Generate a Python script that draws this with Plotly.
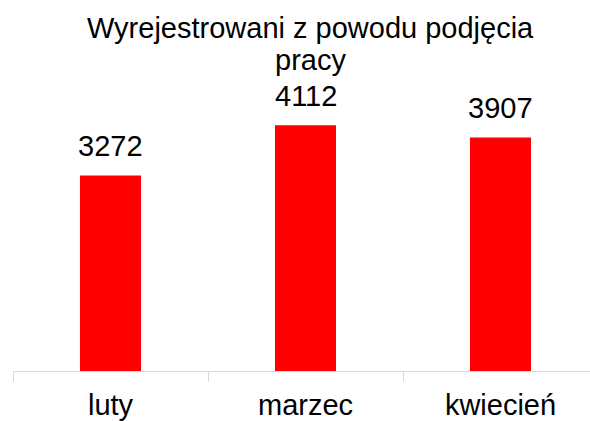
import plotly.graph_objects as go

categories = ["luty", "marzec", "kwiecień"]
values = [3272, 4112, 3907]
title_line1 = "Wyrejestrowani z powodu podjęcia"
title_line2 = "pracy"

FONT = "Liberation Sans, Arial"
title_x = (310 - 13) / 577

fig = go.Figure(go.Bar(
    x=categories, y=values, width=0.313,
    marker=dict(color="#ff0000", line=dict(width=0)),
))
annotations = [
    dict(text=title_line1, xref="paper", yref="paper", x=title_x, y=1,
         xanchor="center", yanchor="middle", yshift=102 - 28, showarrow=False,
         font=dict(size=29, color="#000000", family=FONT)),
    dict(text=title_line2, xref="paper", yref="paper", x=title_x, y=1,
         xanchor="center", yanchor="middle", yshift=102 - 60, showarrow=False,
         font=dict(size=29, color="#000000", family=FONT)),
]
for c, v in zip(categories, values):
    annotations.append(dict(text=str(v), x=c, y=v, xref="x", yref="y",
                            xanchor="center", yanchor="bottom", yshift=11,
                            showarrow=False,
                            font=dict(size=29, color="#000000", family=FONT)))
fig.update_layout(
    width=590, height=421,
    margin=dict(l=13, r=0, t=102, b=47),
    paper_bgcolor="white", plot_bgcolor="white",
    showlegend=False,
    font=dict(family=FONT, size=29, color="#000000"),
    xaxis=dict(range=[-0.5, 2.459], showline=True, linecolor="#d9d9d9", linewidth=1,
               ticks="outside", tickson="boundaries", ticklen=10, tickcolor="#d9d9d9",
               tickfont=dict(size=29), ticklabelstandoff=8,
               showgrid=False, zeroline=False),
    yaxis=dict(range=[0, 4500], visible=False, showgrid=False, zeroline=False),
    annotations=annotations,
)
fig.write_html("out.html", config={"displayModeBar": False},
               post_script="document.body.style.margin='0';")
